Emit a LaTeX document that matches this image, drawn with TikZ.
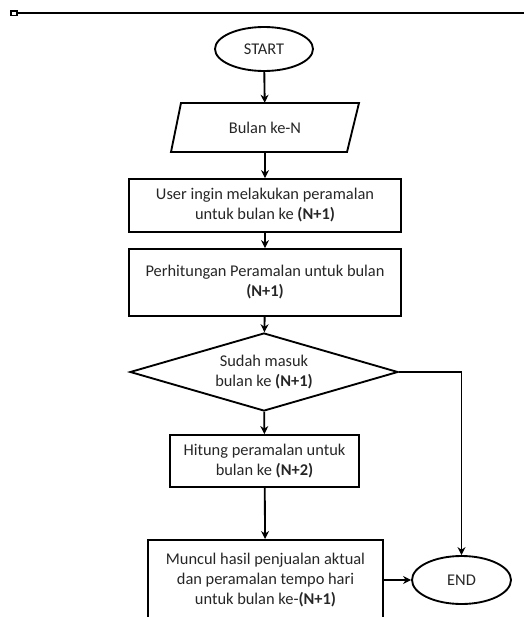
\documentclass[tikz,border=0pt]{standalone}
\usepackage{fontspec}
\setmainfont{Carlito}
\usetikzlibrary{shapes.geometric,arrows.meta}
\begin{document}
\begin{tikzpicture}[x=0.75pt,y=-0.75pt,
  every node/.style={font=\fontsize{12.3}{15}\selectfont, text=black!85},
  boxstyle/.style={draw=black, line width=1.4pt, align=center, inner sep=0pt},
  termstyle/.style={draw=black, line width=1.4pt, ellipse, inner sep=0pt},
  conn/.style={line width=1.4pt, -{Stealth[length=6pt,width=6pt]}}]
\useasboundingbox (0,0) rectangle (524,617);
\clip (0,0) rectangle (524,617);
% top rule
\draw[line width=1.4pt] (16,13) -- (524,13);
\draw[line width=1pt, fill=white] (11,11) rectangle (17,15.5);
% nodes
\node[termstyle, minimum width=98*0.75pt, minimum height=44*0.75pt] (start) at (264,49) {START};
\node[inner sep=0pt, minimum width=176*0.75pt, minimum height=49*0.75pt] (inp) at (265,127.5) {Bulan ke-N};
\draw[line width=1.4pt, line join=miter] (181,103) -- (359,103) -- (347,152) -- (171,152) -- cycle;
\node[boxstyle, minimum width=272*0.75pt, minimum height=53*0.75pt] (b1) at (265,205.5) {User ingin melakukan peramalan\\untuk bulan ke \textbf{(N+1)}};
\node[boxstyle, minimum width=272*0.75pt, minimum height=67*0.75pt] (b2) at (265,282.5) {Perhitungan Peramalan untuk bulan\\\textbf{(N+1)}};
\node[boxstyle, diamond, aspect=3.4, minimum width=268*0.75pt, minimum height=78*0.75pt] (d) at (264,372) {Sudah masuk\\bulan ke \textbf{(N+1)}};
\node[boxstyle, minimum width=189*0.75pt, minimum height=52*0.75pt] (b3) at (264.5,461) {Hitung peramalan untuk\\bulan ke \textbf{(N+2)}};
\node[boxstyle, minimum width=235*0.75pt, minimum height=95*0.75pt, anchor=north] (b4) at (265.5,539) {};
\node[align=center] at (265.5,580) {Muncul hasil penjualan aktual\\dan peramalan tempo hari\\untuk bulan ke-\textbf{(N+1)}};
\node[termstyle, minimum width=99*0.75pt, minimum height=48*0.75pt] (end) at (461.5,580) {END};
\coordinate (corner) at (end.north |- d.east);
% connectors
\draw[conn] (start) -- (inp);
\draw[conn] (inp) -- (b1);
\draw[conn] (b1) -- (b2);
\draw[conn] (b2) -- (d);
\draw[conn] (d) -- (b3);
\draw[conn] (b3) -- (b4);
\draw[line width=1.4pt] (d.east) -- (corner);
\draw[conn] (corner) -- (end.north);
\draw[conn] (b4.east |- end.west) -- (end.west);
\end{tikzpicture}
\end{document}
